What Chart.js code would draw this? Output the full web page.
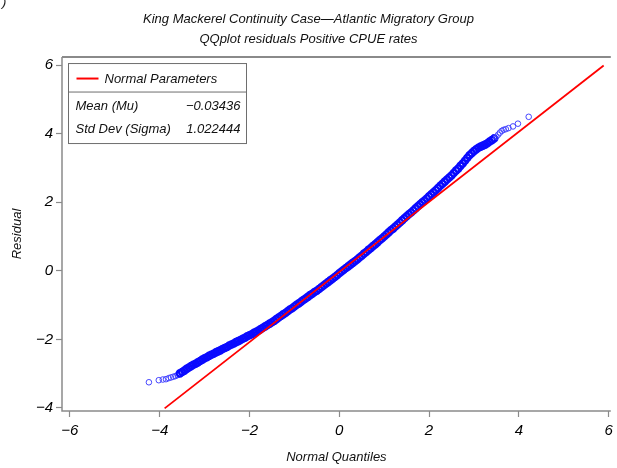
<!DOCTYPE html>
<html>
<head>
<meta charset="utf-8">
<script src="https://cdn.jsdelivr.net/npm/chart.js@4.4.1/dist/chart.umd.min.js"></script>
<style>
  html, body { margin: 0; padding: 0; background: #fff; overflow: hidden; }
  #wrap { width: 617px; height: 468px; position: relative; }
</style>
</head>
<body>
<div id="wrap"><canvas id="qq" width="617" height="468"></canvas></div>
<script>
// Titles and axis labels
const titleLines = [
  'King Mackerel Continuity Case\u2014Atlantic Migratory Group',
  'QQplot residuals Positive CPUE rates'
];
const xAxisTitle = 'Normal Quantiles';
const yAxisTitle = 'Residual';
const xTickValues = [-6, -4, -2, 0, 2, 4, 6];
const yTickValues = [-4, -2, 0, 2, 4, 6];

// Fitted normal parameters (reference line: residual = mean + stdDev * quantile)
const fitMean = -0.03436;
const fitStdDev = 1.022444;
const refLineQuantiles = [-3.89, 5.89];

// Normal quantiles and the matching sorted residuals
const normalQuantiles = [
  -4.24, -4.02, -3.93, -3.86, -3.80, -3.75, -3.70, -3.65, -3.60,
  -3.55, -3.50, -3.45, -3.40, -3.35, -3.30, -3.25, -3.20, -3.15, -3.10,
  -3.05, -3.00, -2.95, -2.90, -2.85, -2.80, -2.75, -2.70, -2.65, -2.60,
  -2.55, -2.50, -2.45, -2.40, -2.35, -2.30, -2.25, -2.20, -2.15, -2.10,
  -2.05, -2.00, -1.95, -1.90, -1.85, -1.80, -1.75, -1.70, -1.65, -1.60,
  -1.55, -1.50, -1.45, -1.40, -1.35, -1.30, -1.25, -1.20, -1.15, -1.10,
  -1.05, -1.00, -0.95, -0.90, -0.85, -0.80, -0.75, -0.70, -0.65, -0.60,
  -0.55, -0.50, -0.45, -0.40, -0.35, -0.30, -0.25, -0.20, -0.15, -0.10,
  -0.05, 0.00, 0.05, 0.10, 0.15, 0.20, 0.25, 0.30, 0.35, 0.40,
  0.45, 0.50, 0.55, 0.60, 0.65, 0.70, 0.75, 0.80, 0.85, 0.90,
  0.95, 1.00, 1.05, 1.10, 1.15, 1.20, 1.25, 1.30, 1.35, 1.40,
  1.45, 1.50, 1.55, 1.60, 1.65, 1.70, 1.75, 1.80, 1.85, 1.90,
  1.95, 2.00, 2.05, 2.10, 2.15, 2.20, 2.25, 2.30, 2.35, 2.40,
  2.45, 2.50, 2.55, 2.60, 2.65, 2.70, 2.75, 2.80, 2.85, 2.90,
  2.95, 3.00, 3.05, 3.10, 3.15, 3.20, 3.25, 3.30, 3.35, 3.40, 3.45,
  3.50, 3.54, 3.58, 3.62, 3.66, 3.71, 3.77, 3.87, 3.98, 4.22
];
const residuals = [
  -3.25, -3.19, -3.17, -3.16, -3.13, -3.11, -3.09, -3.07, -3.04,
  -2.99, -2.95, -2.91, -2.86, -2.82, -2.78, -2.74, -2.71, -2.67, -2.63,
  -2.59, -2.55, -2.52, -2.48, -2.45, -2.42, -2.38, -2.35, -2.32, -2.28,
  -2.25, -2.22, -2.18, -2.15, -2.12, -2.08, -2.05, -2.02, -1.98, -1.95,
  -1.91, -1.88, -1.85, -1.81, -1.78, -1.74, -1.70, -1.66, -1.62, -1.58,
  -1.54, -1.50, -1.46, -1.41, -1.36, -1.32, -1.27, -1.23, -1.18, -1.13,
  -1.09, -1.04, -0.99, -0.95, -0.90, -0.85, -0.81, -0.76, -0.71, -0.67,
  -0.62, -0.58, -0.53, -0.48, -0.43, -0.38, -0.33, -0.28, -0.23, -0.18,
  -0.13, -0.07, -0.02, 0.03, 0.08, 0.13, 0.18, 0.23, 0.28, 0.33,
  0.39, 0.44, 0.50, 0.55, 0.61, 0.66, 0.72, 0.77, 0.83, 0.89,
  0.94, 1.00, 1.06, 1.12, 1.18, 1.23, 1.29, 1.35, 1.41, 1.47,
  1.53, 1.59, 1.65, 1.70, 1.76, 1.82, 1.88, 1.94, 2.00, 2.05,
  2.11, 2.17, 2.23, 2.29, 2.35, 2.41, 2.48, 2.54, 2.60, 2.66,
  2.72, 2.78, 2.85, 2.92, 2.98, 3.06, 3.13, 3.21, 3.29, 3.37,
  3.43, 3.49, 3.54, 3.59, 3.62, 3.65, 3.68, 3.72, 3.77, 3.81, 3.86,
  3.91, 3.97, 4.03, 4.08, 4.11, 4.13, 4.16, 4.21, 4.29, 4.49
];

const FONT = '"Liberation Sans", Arial, sans-serif';
const minusSign = v => (v < 0 ? '\u2212' + Math.abs(v) : String(v));

const qqPoints = normalQuantiles.map((q, i) => ({ x: q, y: residuals[i] }));
const refLine = refLineQuantiles.map(q => ({ x: q, y: fitMean + fitStdDev * q }));

// sparse tail observations are drawn as thin open circles, the dense body heavier
const isTail = ctx => {
  const p = qqPoints[ctx.dataIndex];
  return p && (p.x < -3.57 || p.x > 3.47);
};

// Plot frame, parameter inset and the stray corner glyph
const framePlugin = {
  id: 'frameAndInset',
  afterDraw(chart) {
    const { ctx, chartArea: a } = chart;
    ctx.save();
    // frame: top, left, bottom
    ctx.strokeStyle = '#8a8a8a';
    ctx.lineWidth = 2;
    ctx.beginPath();
    ctx.moveTo(a.left, a.top); ctx.lineTo(a.right, a.top);
    ctx.stroke();
    ctx.lineWidth = 1.5;
    ctx.beginPath();
    ctx.moveTo(a.left, a.top); ctx.lineTo(a.left, a.bottom); ctx.lineTo(a.right, a.bottom);
    ctx.stroke();

    // parameter inset
    const bx = a.left + 6.5, by = a.top + 6.5, bw = 178, bh = 80;
    ctx.fillStyle = '#fff';
    ctx.fillRect(bx, by, bw, bh);
    ctx.strokeStyle = '#6e6e6e';
    ctx.lineWidth = 1;
    ctx.strokeRect(bx, by, bw, bh);
    ctx.beginPath();
    ctx.moveTo(bx, by + 28.5); ctx.lineTo(bx + bw, by + 28.5);
    ctx.stroke();

    ctx.strokeStyle = '#ff0000';
    ctx.lineWidth = 2;
    ctx.beginPath();
    ctx.moveTo(bx + 8, by + 15); ctx.lineTo(bx + 30, by + 15);
    ctx.stroke();

    ctx.fillStyle = '#111';
    ctx.font = 'italic 13px ' + FONT;
    ctx.textBaseline = 'middle';
    ctx.textAlign = 'left';
    ctx.fillText('Normal Parameters', bx + 36, by + 16);
    ctx.fillText('Mean (Mu)', bx + 7, by + 43);
    ctx.fillText('Std Dev (Sigma)', bx + 7, by + 66);
    ctx.textAlign = 'right';
    ctx.fillText(minusSign(fitMean), bx + bw - 6, by + 43);
    ctx.fillText(String(fitStdDev), bx + bw - 6, by + 66);

    // clipped glyph in the top-left corner
    ctx.textAlign = 'left';
    ctx.textBaseline = 'alphabetic';
    ctx.font = 'italic 13px ' + FONT;
    ctx.fillStyle = '#222';
    ctx.fillText(')', 2, 6);
    ctx.restore();
  }
};

new Chart(document.getElementById('qq'), {
  data: {
    datasets: [
      {
        type: 'line',
        label: 'Normal Parameters',
        data: refLine,
        borderColor: '#ff0000',
        borderWidth: 1.8,
        pointRadius: 0,
        fill: false,
        order: 0
      },
      {
        type: 'scatter',
        label: 'Residual',
        data: qqPoints,
        pointStyle: 'circle',
        pointRadius: ctx => (isTail(ctx) ? 2.8 : 3.2),
        borderWidth: ctx => (isTail(ctx) ? 1 : 2.2),
        borderColor: ctx => (isTail(ctx) ? 'rgb(70,70,255)' : 'rgb(10,10,255)'),
        backgroundColor: 'rgba(0,0,0,0)',
        order: 1
      }
    ]
  },
  options: {
    responsive: false,
    animation: false,
    layout: { padding: 0 },
    plugins: {
      legend: { display: false },
      tooltip: { enabled: false },
      title: {
        display: true,
        text: titleLines,
        color: '#111',
        font: { family: FONT, size: 13, style: 'italic', weight: 'normal', lineHeight: 1.54 },
        padding: { top: 9, bottom: 8 }
      }
    },
    scales: {
      x: {
        type: 'linear',
        min: -6.176,
        max: 6.049,
        border: { display: false },
        grid: { drawOnChartArea: false, drawTicks: true, tickLength: 6, color: '#8a8a8a', tickColor: '#8a8a8a', tickWidth: 1.2 },
        ticks: {
          color: '#000',
          padding: 5,
          autoSkip: false,
          maxRotation: 0,
          font: { family: FONT, size: 15, style: 'italic' },
          callback: v => minusSign(v)
        },
        afterBuildTicks: s => { s.ticks = xTickValues.map(v => ({ value: v })); },
        afterFit: s => { s.height = 57; s.paddingLeft = 0; s.paddingRight = 0; },
        title: {
          display: true,
          text: xAxisTitle,
          color: '#111',
          font: { family: FONT, size: 13, style: 'italic' },
          padding: { top: 0, bottom: 3 }
        }
      },
      y: {
        type: 'linear',
        min: -4.088,
        max: 6.233,
        border: { display: false },
        grid: { drawOnChartArea: false, drawTicks: true, tickLength: 6, color: '#8a8a8a', tickColor: '#8a8a8a', tickWidth: 1.2 },
        ticks: {
          color: '#000',
          padding: 3,
          autoSkip: false,
          font: { family: FONT, size: 15, style: 'italic' },
          callback: v => minusSign(v)
        },
        afterBuildTicks: s => { s.ticks = yTickValues.map(v => ({ value: v })); },
        afterFit: s => { s.width = 62; s.paddingTop = 0; s.paddingBottom = 0; },
        title: {
          display: true,
          text: yAxisTitle,
          color: '#111',
          font: { family: FONT, size: 13, style: 'italic' },
          padding: { top: 10, bottom: 0 }
        }
      }
    }
  },
  plugins: [framePlugin]
});
</script>
</body>
</html>
